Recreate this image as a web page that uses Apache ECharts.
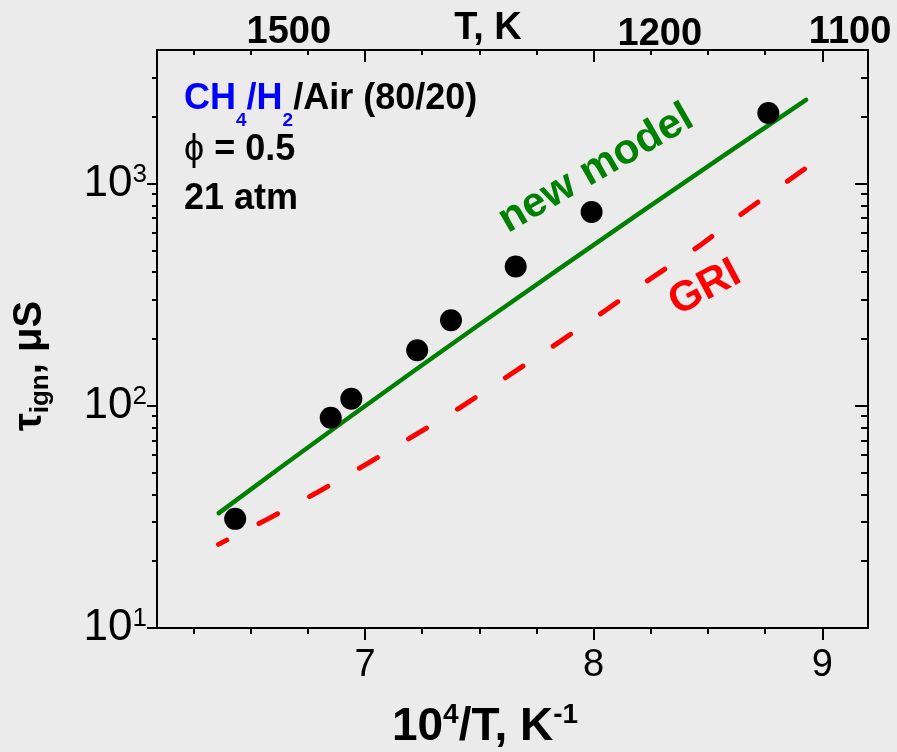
<!DOCTYPE html>
<html>
<head>
<meta charset="utf-8">
<script src="https://cdn.jsdelivr.net/npm/echarts@6/dist/echarts.min.js"></script>
<style>
html,body{margin:0;padding:0;background:#ebebeb;}
#chart{width:897px;height:752px;}
</style>
</head>
<body>
<div id="chart"></div>
<script>
// ---- data ----
const expX = [6.432, 6.850, 6.940, 7.228, 7.376, 7.659, 7.991, 8.764];
const expY = [31.0, 88.5, 107.7, 178, 243, 424, 746, 2080];
const newModelX = [6.360, 7.502, 8.929];
const newModelY = [32.9, 233, 2388];
const griX = [6.359, 6.576, 6.786, 6.997, 7.205, 7.414, 7.624, 7.836, 8.045, 8.255, 8.462, 8.674, 8.929];
const griY = [23.8, 31.0, 40.5, 54.0, 72.5, 97.9, 135.9, 189.7, 266, 377.6, 525, 766, 1178];
const xMajorTicks = [7, 8, 9];
const xMinorTicks = [6.25, 6.5, 6.75, 7.25, 7.5, 7.75, 8.25, 8.5, 8.75];
const yMajorTicks = [10, 100, 1000];
const yMinorTicks = [20, 30, 40, 50, 60, 70, 80, 90, 200, 300, 400, 500, 600, 700, 800, 900, 2000, 3000];
const topTempsA = [1500, 1100];
const topTempsB = [1200];

const FONT = 'Liberation Sans, Arial, sans-serif';
const NARROW = 'Liberation Sans Narrow, Liberation Sans, Arial, sans-serif';
const xMin = 6.09, xMax = 9.2, yMin = 10, yMax = 4000;

const chart = echarts.init(document.getElementById('chart'), null, {renderer: 'canvas'});

function xAx(extra) {
  return Object.assign({
    type: 'value', min: xMin, max: xMax, splitLine: {show: false}, nameMoveOverlap: false,
    axisLine: {show: false}, axisTick: {show: false}, axisLabel: {show: false}
  }, extra);
}
function yAx(extra) {
  return Object.assign({
    type: 'log', logBase: 10, min: yMin, max: yMax, splitLine: {show: false}, nameMoveOverlap: false,
    axisLine: {show: false}, axisTick: {show: false}, axisLabel: {show: false}
  }, extra);
}
const lineStyle = {color: '#000', width: 2};

const option = {
  backgroundColor: '#ebebeb',
  animation: false,
  grid: {left: 157, right: 29, top: 50, bottom: 124, containLabel: false, outerBoundsMode: 'none'},
  xAxis: [
    xAx({position: 'bottom',
      axisLine: {show: true, onZero: false, lineStyle: lineStyle},
      axisTick: {show: true, inside: false, length: 12, customValues: xMajorTicks, lineStyle: lineStyle},
      axisLabel: {show: true, customValues: xMajorTicks, margin: 19, fontSize: 38, lineHeight: 38,
        fontFamily: FONT, color: '#000', formatter: v => String(v)},
      name: '10{sup|4}/T, K{sup|-1}', nameLocation: 'middle', nameGap: 73,
      nameTextStyle: {color: '#000', fontFamily: FONT, fontWeight: 'bold', fontSize: 46, lineHeight: 52,
        verticalAlign: 'top', padding: [0, 55, 0, 0],
        rich: {sup: {fontSize: 28, lineHeight: 22, fontWeight: 'bold', fontFamily: FONT, color: '#000', verticalAlign: 'top'}}}
    }),
    xAx({position: 'bottom',
      axisTick: {show: true, inside: false, length: 6, customValues: xMinorTicks, lineStyle: lineStyle}}),
    xAx({position: 'top',
      axisLine: {show: true, onZero: false, lineStyle: lineStyle},
      axisTick: {show: true, inside: true, length: 12, customValues: xMajorTicks, lineStyle: lineStyle},
      axisLabel: {show: true, margin: 0, customValues: topTempsA.map(t => 1e4 / t),
        formatter: v => {
          const t = Math.round(1e4 / v);
          return t === 1100 ? '{r|' + t + '}' : '{a|' + t + '}';
        },
        rich: {
          a: {fontSize: 38, lineHeight: 30, fontWeight: 'bold', fontFamily: FONT, color: '#000', padding: [0, 0, 5, 0]},
          r: {fontSize: 38, lineHeight: 30, fontWeight: 'bold', fontFamily: FONT, color: '#000', padding: [0, 0, 5, 14]}
        }},
      name: 'T, K', nameLocation: 'middle', nameGap: 6,
      nameTextStyle: {color: '#000', fontFamily: FONT, fontWeight: 'bold', fontSize: 38, lineHeight: 30,
        padding: [0, 49, 0, 0]}
    }),
    xAx({position: 'top',
      axisTick: {show: true, inside: true, length: 5, customValues: xMinorTicks, lineStyle: lineStyle}}),
    xAx({position: 'top',
      axisLabel: {show: true, margin: 0, customValues: topTempsB.map(t => 1e4 / t),
        formatter: v => '{b|' + Math.round(1e4 / v) + '}',
        rich: {b: {fontSize: 38, lineHeight: 30, fontWeight: 'bold', fontFamily: FONT, color: '#000', padding: [0, 20, 0, 0]}}}
    })
  ],
  yAxis: [
    yAx({position: 'left',
      axisLine: {show: true, onZero: false, lineStyle: lineStyle},
      axisTick: {show: true, inside: false, length: 10, customValues: yMajorTicks, lineStyle: lineStyle},
      axisLabel: {show: true, margin: 10, customValues: yMajorTicks,
        formatter: v => '{b|10}{s|' + Math.round(Math.log10(v)) + '}',
        rich: {
          b: {fontSize: 44, lineHeight: 44, fontFamily: NARROW, color: '#000', verticalAlign: 'bottom'},
          s: {fontSize: 26, lineHeight: 26, fontFamily: NARROW, color: '#000', verticalAlign: 'top'}
        }},
      name: '{t|τ}{sub|ign}{t|, μS}', nameLocation: 'middle', nameRotate: 90, nameGap: 107,
      nameTextStyle: {padding: [0, 54, 0, 0],
        rich: {
          t: {fontSize: 40, lineHeight: 40, fontWeight: 'bold', fontFamily: FONT, color: '#000', verticalAlign: 'top'},
          sub: {fontSize: 26, lineHeight: 26, fontWeight: 'bold', fontFamily: FONT, color: '#000', verticalAlign: 'top', padding: [18, 0, 0, 0]}
        }}
    }),
    yAx({position: 'left',
      axisTick: {show: true, inside: false, length: 5, customValues: yMinorTicks, lineStyle: lineStyle}}),
    yAx({position: 'right',
      axisLine: {show: true, onZero: false, lineStyle: lineStyle},
      axisTick: {show: true, inside: true, length: 13, customValues: yMajorTicks, lineStyle: lineStyle}}),
    yAx({position: 'right',
      axisTick: {show: true, inside: true, length: 7, customValues: yMinorTicks, lineStyle: lineStyle}})
  ],
  series: [
    {type: 'line', name: 'GRI', xAxisIndex: 0, yAxisIndex: 0, showSymbol: false, symbol: 'none', smooth: false,
      data: griX.map((x, i) => [x, griY[i]]),
      lineStyle: {color: '#ff0000', width: 5, type: [21, 36.3], dashOffset: 11.8, cap: 'round', join: 'round'}, z: 2},
    {type: 'line', name: 'new model', xAxisIndex: 0, yAxisIndex: 0, showSymbol: false, symbol: 'none', smooth: 0.5,
      data: newModelX.map((x, i) => [x, newModelY[i]]),
      lineStyle: {color: '#008000', width: 4.5, cap: 'round', join: 'round'}, z: 3},
    {type: 'scatter', name: 'exp', xAxisIndex: 0, yAxisIndex: 0, symbol: 'circle', symbolSize: 22,
      data: expX.map((x, i) => [x, expY[i]]),
      itemStyle: {color: '#000', opacity: 1}, z: 4}
  ],
  graphic: [
    {type: 'text', x: 184, y: 81, style: {
      text: '{bl|CH}{bs|4}{bl|/H}{bs|2}{k|/Air (80/20)}',
      rich: {
        bl: {fontSize: 36, lineHeight: 36, fontWeight: 'bold', fontFamily: FONT, fill: '#0000ff', verticalAlign: 'top'},
        bs: {fontSize: 19, lineHeight: 19, fontWeight: 'bold', fontFamily: FONT, fill: '#0000ff', verticalAlign: 'top', padding: [30, 0, 0, 0]},
        k: {fontSize: 36, lineHeight: 36, fontWeight: 'bold', fontFamily: FONT, fill: '#000', verticalAlign: 'top'}
      }}},
    {type: 'text', x: 184, y: 132, style: {
      text: '{p|ϕ}{k| = 0.5}',
      rich: {
        p: {fontSize: 36, lineHeight: 36, fontFamily: FONT, fill: '#000'},
        k: {fontSize: 36, lineHeight: 36, fontWeight: 'bold', fontFamily: FONT, fill: '#000'}
      }}},
    {type: 'text', x: 184, y: 181, style: {
      text: '21 atm', fontSize: 36, lineHeight: 36, fontWeight: 'bold', fontFamily: FONT, fill: '#000'}},
    {type: 'text', x: 596, y: 169, rotation: 30 * Math.PI / 180, style: {
      text: 'new model', fontSize: 42, fontWeight: 'bold', fontFamily: FONT, fill: '#008000',
      align: 'center', verticalAlign: 'middle'}},
    {type: 'text', x: 705, y: 288, rotation: 28 * Math.PI / 180, style: {
      text: 'GRI', fontSize: 42, fontWeight: 'bold', fontFamily: FONT, fill: '#ff0000',
      align: 'center', verticalAlign: 'middle'}}
  ]
};
chart.setOption(option);
</script>
</body>
</html>
